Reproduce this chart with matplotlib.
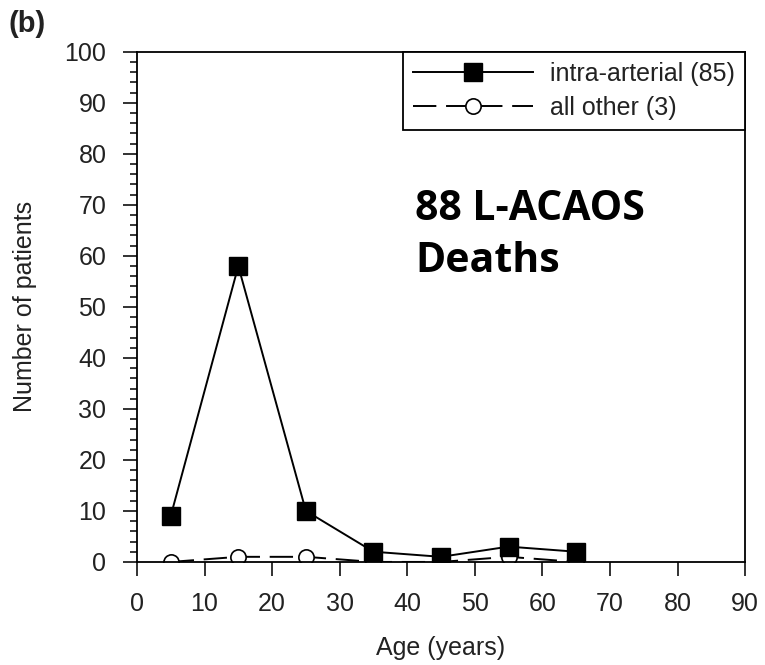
import matplotlib
matplotlib.use("Agg")
import matplotlib.pyplot as plt
from matplotlib.ticker import MultipleLocator

ages = [5, 15, 25, 35, 45, 55, 65]
intra_arterial = [9, 58, 10, 2, 1, 3, 2]
all_other = [0, 1, 1, 0, 0, 1, 0]
xticks = [0, 10, 20, 30, 40, 50, 60, 70, 80, 90]
yticks = [0, 10, 20, 30, 40, 50, 60, 70, 80, 90, 100]

plt.rcParams['font.family'] = ['Liberation Sans', 'DejaVu Sans']
txt_color = '#222222'

fig = plt.figure(figsize=(7.65, 6.65), dpi=100)
ax = fig.add_axes([0.179, 0.155, 0.795, 0.767])

ax.plot(ages, intra_arterial, color='black', lw=1.4, marker='s', ms=13,
        mfc='black', mec='black', label='intra-arterial (85)', zorder=3)
ax.plot(ages, all_other, color='black', lw=1.4, linestyle=(0, (12, 5)),
        marker='o', ms=11, mfc='white', mec='black', mew=1.2,
        label='all other (3)', zorder=2)

ax.set_xlim(0, 90)
ax.set_ylim(0, 100)
ax.set_xticks(xticks)
ax.set_yticks(yticks)
ax.yaxis.set_minor_locator(MultipleLocator(2))
ax.tick_params(axis='both', which='major', direction='out', length=10, width=1.3,
               labelsize=18, colors=txt_color, pad=12)
ax.tick_params(axis='y', which='minor', direction='out', length=5, width=1.1)
for s in ax.spines.values():
    s.set_linewidth(1.3)

ax.set_xlabel('Age (years)', fontsize=18, labelpad=14, color=txt_color)
ax.set_ylabel('Number of patients', fontsize=18, labelpad=20, color=txt_color)

leg = ax.legend(loc='upper right', fontsize=18, handlelength=4.8,
                borderaxespad=0, frameon=True, fancybox=False,
                edgecolor='black', framealpha=1, borderpad=0.4,
                labelspacing=0.4, handletextpad=0.7)
leg.get_frame().set_linewidth(1.3)
for t in leg.get_texts():
    t.set_color(txt_color)

bold_font = ['Open Sans', 'DejaVu Sans']
fig.text(415 / 765, 1 - 220 / 665, '88 L-ACAOS', fontsize=29.5, fontweight='bold',
         family=bold_font, ha='left', va='baseline')
fig.text(415 / 765, 1 - 272 / 665, 'Deaths', fontsize=29.5, fontweight='bold',
         family=bold_font, ha='left', va='baseline')
fig.text(9 / 765, 1 - 10 / 665, '(b)', fontsize=21, fontweight='bold',
         ha='left', va='top', color=txt_color)

fig.savefig('out.png', dpi=100)
